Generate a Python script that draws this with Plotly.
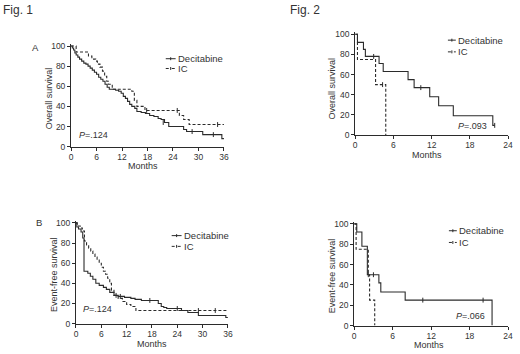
import plotly.graph_objects as go

# ---------------- data ----------------
# Fig 1A overall survival
a_dec_t = [0, 0.3, 0.6, 0.9, 1.2, 1.6, 2.0, 2.5, 3.0, 3.5, 4.0, 4.5, 5.0, 5.5, 6.0, 6.5, 7.0, 7.5, 8.0, 8.5, 9.0,
           10.5, 11.2, 11.8, 12.3, 12.8, 13.3, 13.8, 14.3, 15.0, 15.5, 16.5, 17.5, 18.5, 19.5, 20.5, 21.2, 22.0,
           23.0, 26.5, 27.2, 31.0, 35.5, 36]
a_dec_s = [100, 98, 96, 93, 91, 89, 87, 85, 83, 82, 80, 78, 76, 74, 72, 69, 67, 65, 62, 59, 57,
           56, 55, 53, 50, 48, 45, 42, 40, 38, 35, 34, 33, 31, 30, 28, 27, 24,
           20, 17, 15, 12, 8, 8]
a_dec_ct = [21.7, 28.5, 33.5]
a_dec_cs = [24, 15, 12]
a_ic_t = [0, 1.2, 4.1, 4.9, 5.8, 6.2, 6.8, 7.4, 7.9, 8.4, 8.8, 9.7, 14.3, 14.9, 15.5, 17.4, 25.5, 26.5, 27.8, 36]
a_ic_s = [100, 94, 90, 87, 85, 82, 79, 75, 70, 65, 62, 57, 55, 46, 40, 36, 31, 27, 22, 22]
a_ic_ct = [17.8, 25.0, 34.5]
a_ic_cs = [36, 36, 22]

# Fig 1B event-free survival
b_dec_t = [0, 0.2, 0.6, 1.2, 1.6, 1.9, 2.8, 3.4, 4.0, 4.7, 5.5, 6.5, 7.2, 8.0, 9.0, 10.0, 11.5, 13.0, 14.0,
           15.5, 19.5, 20.2, 20.8, 21.5, 25.0, 26.5, 29.0, 35.5, 36]
b_dec_s = [100, 96, 94, 91, 85, 52, 50, 47, 44, 40, 38, 36, 34, 31, 28, 27, 26, 25, 24,
           23, 20, 17, 16, 15, 13, 11, 8, 6, 6]
b_dec_ct = [10.5, 17.5, 24.0]
b_dec_cs = [27, 23, 15]
b_ic_t = [0, 0.3, 1.0, 1.5, 2.0, 2.5, 3.0, 3.5, 4.0, 4.5, 5.0, 5.5, 6.0, 6.5, 7.0, 7.5, 8.0, 8.4, 9.0,
          10.0, 11.0, 12.0, 13.0, 14.2, 36]
b_ic_s = [100, 97, 95, 92, 82, 78, 75, 72, 69, 66, 63, 60, 56, 52, 49, 45, 40, 33, 28,
          25, 22, 19, 17, 13, 13]
b_ic_ct = [9.5, 29.0, 33.0]
b_ic_cs = [28, 13, 13]

# Fig 2 top overall survival
c_dec_t = [0, 0.36, 1.3, 1.6, 3.75, 4.4, 8.3, 9.25, 11.7, 13.1, 15.4, 21.6, 21.9]
c_dec_s = [100, 92, 85, 78, 71, 63, 55, 47, 38, 29, 19, 9.5, 9.5]
c_dec_ct = [2.9, 10.3, 21.9]
c_dec_cs = [78, 47, 9.5]
c_ic_t = [0, 0.36, 3.2, 4.8, 4.8]
c_ic_s = [100, 75, 50, 0, 0]
c_ic_ct = [4.3]
c_ic_cs = [50]

# Fig 2 bottom event-free survival
d_dec_t = [0, 0.4, 1.2, 2.05, 3.85, 4.15, 7.95, 21.5, 21.5]
d_dec_s = [100, 92, 78, 50, 42, 33, 25, 0, 0]
d_dec_ct = [3.0, 10.7, 20.1]
d_dec_cs = [50, 25, 25]
d_ic_t = [0, 0.3, 2.2, 2.4, 3.2, 3.2]
d_ic_s = [100, 75, 50, 25, 0, 0]
d_ic_ct = [2.2]
d_ic_cs = [50]

y_ticks = [0, 20, 40, 60, 80, 100]
x_ticks_36 = [0, 6, 12, 18, 24, 30, 36]
x_ticks_24 = [0, 6, 12, 18, 24]
p_labels = ["<i>P</i>=.124", "<i>P</i>=.093", "<i>P</i>=.124", "<i>P</i>=.066"]
series_names = ["Decitabine", "IC"]

# ---------------- figure ----------------
W, H = 520, 354
FONT = "Liberation Sans, Arial, sans-serif"
TXT = "#333333"
LINE = "#2b2b2b"
FS = 8.5

fig = go.Figure()

# panel pixel boxes: (left, right, top_of_100, bottom_of_0)
panels = [
    dict(key="", box=(70, 225, 44, 147), xmax=36, xt=x_ticks_36, ytitle="Overall survival",
         dec=(a_dec_t, a_dec_s, a_dec_ct, a_dec_cs), ic=(a_ic_t, a_ic_s, a_ic_ct, a_ic_cs),
         leg=(166, 176, 57, 67), p=(77, 135), plab=p_labels[0],
         yt=(47, 97), xtl=(143, 167)),
    dict(key="2", box=(358, 513, 32, 135), xmax=24, xt=x_ticks_24, ytitle="Overall survival",
         dec=(c_dec_t, c_dec_s, c_dec_ct, c_dec_cs), ic=(c_ic_t, c_ic_s, c_ic_ct, c_ic_cs),
         leg=(452, 460, 38, 50), p=(461, 126), plab=p_labels[1],
         yt=(335, 87), xtl=(431, 156)),
    dict(key="3", box=(75, 229, 225, 328), xmax=36, xt=x_ticks_36, ytitle="Event-free survival",
         dec=(b_dec_t, b_dec_s, b_dec_ct, b_dec_cs), ic=(b_ic_t, b_ic_s, b_ic_ct, b_ic_cs),
         leg=(172, 182, 238, 249), p=(81, 313), plab=p_labels[2],
         yt=(52, 278), xtl=(152, 349)),
    dict(key="4", box=(357, 513, 226, 330), xmax=24, xt=x_ticks_24, ytitle="Event-free survival",
         dec=(d_dec_t, d_dec_s, d_dec_ct, d_dec_cs), ic=(d_ic_t, d_ic_s, d_ic_ct, d_ic_cs),
         leg=(453, 461, 233, 245), p=(459, 320), plab=p_labels[3],
         yt=(334, 279), xtl=(433, 350)),
]

def ann(text, x, y, size=FS, xanchor="center", textangle=0):
    fig.add_annotation(x=x / W, y=1 - y / H, xref="paper", yref="paper", text=text, showarrow=False,
                       xanchor=xanchor, yanchor="middle", textangle=textangle, borderpad=0,
                       font=dict(size=size, color=TXT, family=FONT))

YMAX = 102
shapes = []
for pn in panels:
    k = pn["key"]
    l, r, t100, b0 = pn["box"]
    pxu = (b0 - t100) / 100.0
    top = b0 - YMAX * pxu
    xref = "x" + k
    yref = "y" + k
    for name, data, dash in ((series_names[0], pn["dec"], "solid"), (series_names[1], pn["ic"], "3px,2px")):
        t, s, ct, cs = data
        fig.add_trace(go.Scatter(x=t, y=s, mode="lines", name=name, showlegend=False,
                                 line=dict(shape="hv", color=LINE, width=1.1, dash=dash),
                                 xaxis=xref, yaxis=yref))
        fig.add_trace(go.Scatter(x=ct, y=cs, mode="markers", showlegend=False,
                                 marker=dict(symbol="line-ns", size=3.5, line=dict(width=1, color=LINE)),
                                 xaxis=xref, yaxis=yref))
    fig.update_layout(**{
        "xaxis" + k: dict(domain=[l / W, r / W], range=[0, pn["xmax"]], tickvals=pn["xt"], showline=True,
                          linecolor=LINE, linewidth=1, ticks="outside", ticklen=3, tickcolor=LINE,
                          showgrid=False, zeroline=False, anchor=yref, ticklabelstandoff=-1,
                          tickfont=dict(size=FS, color=TXT, family=FONT)),
        "yaxis" + k: dict(domain=[1 - b0 / H, 1 - top / H], range=[0, YMAX], tickvals=y_ticks, showline=True,
                          linecolor=LINE, linewidth=1, ticks="outside", ticklen=3, tickcolor=LINE,
                          showgrid=False, zeroline=False, anchor=xref,
                          tickfont=dict(size=FS, color=TXT, family=FONT)),
    })
    # axis titles
    ann(pn["ytitle"], pn["yt"][0], pn["yt"][1], size=9, textangle=-90)
    ann("Months", pn["xtl"][0], pn["xtl"][1], size=9)
    # p value
    ann(pn["plab"], pn["p"][0], pn["p"][1], size=9, xanchor="left")
    # legend (manual, per panel)
    x0, x1, yd, yi = pn["leg"]
    for nm, yy, dash in ((series_names[0], yd, "solid"), (series_names[1], yi, "dot")):
        shapes.append(dict(type="line", xref="paper", yref="paper", x0=x0 / W, x1=x1 / W,
                           y0=1 - yy / H, y1=1 - yy / H, line=dict(color=LINE, width=1, dash=dash)))
        xm = (x0 + x1) / 2
        shapes.append(dict(type="line", xref="paper", yref="paper", x0=xm / W, x1=xm / W,
                           y0=1 - (yy - 1.5) / H, y1=1 - (yy + 1.5) / H, line=dict(color=LINE, width=1)))
        ann(nm, x1 + 1, yy, size=9.5, xanchor="left")

ann("Fig. 1", 0, 7, size=12, xanchor="left")
ann("Fig. 2", 291, 7, size=12, xanchor="left")
ann("A", 29, 46, size=9.5, xanchor="left")
ann("B", 33, 225, size=9.5, xanchor="left")

fig.update_layout(width=W, height=H, margin=dict(l=0, r=0, t=0, b=0), paper_bgcolor="white",
                  plot_bgcolor="white", font=dict(family=FONT, color=TXT), shapes=shapes, showlegend=False)

fig.write_html("out.html", config={"displayModeBar": False},
               post_script="document.body.style.margin='0';document.body.style.padding='0';")
